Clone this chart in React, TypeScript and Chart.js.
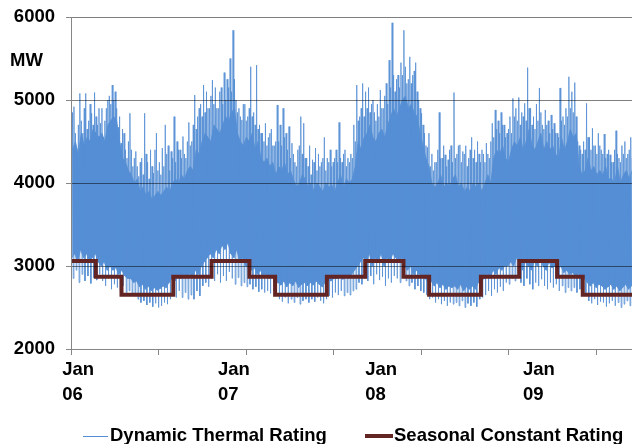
import React, { useEffect, useRef } from "react";
import { Chart, registerables } from "chart.js";

Chart.register(...registerables);

// ---- data ----
const startDate = "2006-01-01";
const endDate = "2009-08-26";

// Dynamic Thermal Rating (MW), one group of readings per week from Jan 2006:
// weekly peak, a second weekly peak, weekly trough, and the top / bottom of the dense band
const dtrWeeklyHigh = [
  4500, 4920, 4350, 5080, 4600, 5080, 4750, 4840, 5090, 4700,
  4720, 4550, 4900, 5050, 5180, 5100, 4670, 4480, 4600, 4300,
  4840, 4200, 4380, 4080, 4300, 4840, 4250, 4400, 4120, 4600,
  4250, 4420, 4700, 4450, 4380, 4800, 4500, 4400, 4560, 4300,
  4730, 4500, 5060, 4800, 4950, 5180, 5100, 4900, 5240, 5150,
  4900, 5150, 5330, 5250, 5500, 5840, 5000, 4900, 4760, 4950,
  4800, 5400, 4850, 5420, 4700, 4600, 4720, 4550, 4650, 4450,
  4940, 4700, 4900, 4600, 4680, 4480, 4250, 4400, 4800, 4720,
  4300, 4450, 4280, 4420, 4350, 4250, 4550, 4300, 4400, 4250,
  4400, 4730, 4250, 4400, 4300, 4350, 4700, 5180, 4800, 5200,
  5100, 5150, 4950, 4850, 4950, 5120, 4900, 5200, 5480, 5930,
  5100, 5300, 5450, 5840, 5200, 5520, 5300, 5450, 5000, 4840,
  4600, 4430, 4200, 4150, 4250, 4850, 4300, 4340, 4280, 4450,
  5090, 4350, 4460, 4380, 4450, 4300, 4550, 4400, 4500, 4250,
  4350, 4480, 4300, 4720, 4880, 4750, 4850, 4700, 4600, 4800,
  5020, 4900, 5030, 4850, 4960, 5390, 4900, 4800, 4950, 5145,
  4700, 4880, 4750, 4820, 4720, 4600, 5145, 4800, 4900, 5280,
  5100, 5210, 4500, 4400, 4500, 4960, 4550, 4660, 4450, 4600,
  4400, 4590, 4350, 4340, 4250, 4630, 4300, 4450, 4500, 4350, 4550,
];
const dtrWeeklySecondPeak = [
  4850, 4600, 4700, 4750, 4900, 4650, 4950, 4700, 4800, 4900,
  4900, 4750, 5000, 4950, 5000, 4900, 4800, 4650, 4400, 4500,
  4400, 4300, 4200, 4250, 4100, 4350, 4050, 4200, 4400, 4150,
  4100, 4200, 4350, 4150, 4300, 4250, 4400, 4300, 4350, 4500,
  4450, 4700, 4650, 4900, 4800, 4850, 4900, 5050, 4950, 4900,
  5100, 4950, 5000, 5150, 5100, 5250, 4850, 4800, 4950, 4750,
  4900, 4800, 4700, 4650, 4600, 4500, 4450, 4600, 4450, 4500,
  4500, 4450, 4550, 4400, 4300, 4350, 4200, 4450, 4350, 4300,
  4200, 4100, 4250, 4150, 4200, 4300, 4150, 4250, 4200, 4300,
  4250, 4300, 4350, 4200, 4250, 4300, 4500, 4750, 4900, 4800,
  4900, 4850, 5000, 4750, 4800, 4900, 5050, 4950, 5150, 5300,
  5250, 5150, 5300, 5400, 5250, 5200, 5350, 5100, 4900, 4700,
  4450, 4600, 4350, 4250, 4400, 4300, 4450, 4200, 4400, 4250,
  4300, 4450, 4250, 4350, 4200, 4400, 4300, 4250, 4350, 4400,
  4250, 4350, 4500, 4550, 4650, 4600, 4700, 4550, 4650, 4600,
  4800, 4750, 4700, 4800, 4750, 4900, 4700, 4650, 4750, 4850,
  4650, 4700, 4600, 4650, 4600, 4550, 4750, 4700, 4800, 4900,
  4850, 4800, 4450, 4350, 4400, 4550, 4400, 4450, 4350, 4450,
  4350, 4300, 4400, 4250, 4400, 4350, 4250, 4350, 4300, 4400, 4300,
];
const dtrWeeklyLow = [
  2850, 2950, 2800, 2900, 2820, 2880, 2790, 2860, 2830, 2900,
  2820, 2760, 2850, 2720, 2780, 2740, 2700, 2760, 2680, 2700,
  2660, 2640, 2600, 2560, 2580, 2530, 2560, 2510, 2550, 2500,
  2520, 2560, 2540, 2600, 2650, 2620, 2700, 2620, 2680, 2600,
  2650, 2600, 2700, 2640, 2760, 2800, 2750, 2850, 2820, 2900,
  2800, 2880, 2820, 2930, 2850, 2780, 2860, 2760, 2800, 2750,
  2780, 2720, 2750, 2690, 2720, 2680, 2700, 2670, 2710, 2650,
  2600, 2570, 2620, 2550, 2600, 2560, 2620, 2540, 2580, 2600,
  2560, 2600, 2570, 2620, 2580, 2550, 2600, 2640, 2620, 2680,
  2650, 2700, 2640, 2680, 2650, 2700, 2720, 2800, 2780, 2850,
  2820, 2880, 2780, 2900, 2830, 2870, 2760, 2850, 2800, 2880,
  2850, 2800, 2870, 2820, 2760, 2800, 2720, 2760, 2700, 2680,
  2650, 2600, 2620, 2560, 2600, 2540, 2580, 2520, 2560, 2540,
  2560, 2520, 2580, 2500, 2550, 2520, 2560, 2510, 2600, 2620,
  2650, 2700, 2640, 2720, 2680, 2750, 2700, 2800, 2780, 2850,
  2820, 2880, 2800, 2760, 2850, 2780, 2720, 2800, 2760, 2840,
  2760, 2720, 2800, 2740, 2780, 2700, 2760, 2680, 2740, 2700,
  2740, 2680, 2720, 2700, 2650, 2580, 2550, 2600, 2530, 2570,
  2560, 2510, 2550, 2580, 2520, 2560, 2500, 2540, 2580, 2520, 2560,
];
const dtrWeeklyBandTop = [
  4400, 4500, 4350, 4600, 4450, 4550, 4500, 4650, 4600, 4550,
  4600, 4500, 4700, 4750, 4800, 4750, 4500, 4300, 4250, 4150,
  4100, 4000, 4050, 3900, 3950, 3850, 3900, 3800, 3850, 3900,
  3850, 3900, 3950, 3900, 4000, 4050, 4000, 4100, 4050, 4150,
  4200, 4150, 4400, 4350, 4500, 4600, 4550, 4500, 4700, 4650,
  4600, 4700, 4800, 4750, 4850, 4900, 4600, 4500, 4450, 4550,
  4500, 4600, 4400, 4500, 4300, 4250, 4300, 4200, 4250, 4100,
  4200, 4150, 4250, 4100, 4150, 4050, 3950, 4000, 4100, 4050,
  3950, 4000, 3900, 4000, 3950, 3900, 4000, 3950, 3980, 3900,
  4000, 4100, 3950, 4050, 4000, 4050, 4200, 4500, 4400, 4550,
  4600, 4700, 4550, 4500, 4600, 4650, 4550, 4700, 4800, 4900,
  4800, 4900, 5000, 5050, 4900, 4950, 4850, 4800, 4600, 4450,
  4300, 4200, 4000, 3950, 4000, 4100, 3950, 4000, 3950, 4050,
  4100, 3950, 4000, 3900, 3950, 3900, 4000, 3950, 4000, 3900,
  4000, 4100, 4000, 4300, 4400, 4350, 4450, 4300, 4250, 4400,
  4500, 4450, 4550, 4400, 4500, 4650, 4450, 4400, 4500, 4600,
  4400, 4500, 4400, 4450, 4350, 4300, 4550, 4400, 4500, 4650,
  4550, 4600, 4200, 4100, 4150, 4300, 4150, 4200, 4100, 4150,
  4100, 4200, 4050, 4050, 4000, 4200, 4000, 4100, 4150, 4050, 4150,
];
const dtrWeeklyBandBottom = [
  3100, 3150, 3050, 3200, 3100, 3150, 3050, 3100, 3150, 3050,
  3000, 3050, 2950, 3000, 2950, 2980, 2900, 2950, 2880, 2850,
  2850, 2800, 2820, 2750, 2780, 2720, 2760, 2700, 2740, 2710,
  2730, 2760, 2740, 2800, 2850, 2820, 2900, 2850, 2900, 2880,
  2900, 2870, 2950, 2900, 3000, 3050, 3100, 3150, 3100, 3200,
  3150, 3250, 3200, 3280, 3150, 3100, 3200, 3050, 3100, 3000,
  3000, 2950, 2980, 2900, 2950, 2880, 2900, 2850, 2900, 2800,
  2800, 2770, 2820, 2750, 2800, 2760, 2820, 2740, 2780, 2800,
  2760, 2800, 2770, 2820, 2780, 2750, 2800, 2830, 2820, 2850,
  2850, 2880, 2840, 2870, 2850, 2900, 2950, 3000, 3050, 3100,
  3050, 3150, 3000, 3100, 3050, 3150, 3000, 3100, 3050, 3150,
  3100, 3050, 3100, 3000, 2950, 3000, 2900, 2950, 2900, 2880,
  2850, 2800, 2820, 2760, 2800, 2740, 2780, 2720, 2760, 2740,
  2760, 2720, 2780, 2700, 2750, 2720, 2760, 2720, 2800, 2820,
  2850, 2900, 2850, 2950, 2900, 2980, 2950, 3000, 3000, 3050,
  3000, 3100, 3050, 2950, 3050, 3000, 2950, 3050, 3000, 3100,
  3000, 2950, 3050, 2980, 3000, 2950, 3000, 2920, 2950, 2900,
  2920, 2880, 2900, 2880, 2850, 2800, 2760, 2800, 2740, 2780,
  2760, 2720, 2750, 2780, 2720, 2760, 2700, 2740, 2780, 2720, 2760,
];

// Seasonal Constant Rating: season start dates and rating (MW)
const seasonStarts = [
  "2006-01-01", "2006-03-01", "2006-05-01", "2006-09-01", "2006-12-01",
  "2007-03-01", "2007-05-01", "2007-09-01", "2007-12-01",
  "2008-03-01", "2008-05-01", "2008-09-01", "2008-12-01",
  "2009-03-01", "2009-05-01", "2009-08-26",
];
const seasonRatings = [
  3060, 2870, 2655, 2870, 3060,
  2870, 2655, 2870, 3060,
  2870, 2655, 2870, 3060,
  2870, 2655, 2655,
];

// axis
const yTicks = [2000, 3000, 4000, 5000, 6000];
const xTickMarkDays = [0, 208, 416, 624, 832, 1040, 1248];
const xLabelDays = [-21, 349, 699, 1074];
const xLabelMonths = ["Jan", "Jan", "Jan", "Jan"];
const xLabelYears = ["06", "07", "08", "09"];

const FONT = "'Liberation Sans', Arial, Helvetica, sans-serif";
const BLUE = "rgba(85,142,213,0.8)";
const BLUE_SOLID = "rgb(85,142,213)";
const RED = "#632523";

const dayOf = (d: string) =>
  (Date.parse(d + "T00:00:00Z") - Date.parse(startDate + "T00:00:00Z")) / 86400000;

export default function App() {
  const ref = useRef<HTMLCanvasElement | null>(null);

  useEffect(() => {
    if (!ref.current) return;
    const dtrPoints: { x: number; y: number }[] = [];
    const bandTopPoints: { x: number; y: number }[] = [];
    const bandBottomPoints: { x: number; y: number }[] = [];
    for (let i = 0; i < dtrWeeklyHigh.length; i++) {
      dtrPoints.push({ x: i * 7, y: dtrWeeklyHigh[i] });
      dtrPoints.push({ x: i * 7 + 1.75, y: dtrWeeklyBandBottom[i] });
      dtrPoints.push({ x: i * 7 + 3.5, y: dtrWeeklySecondPeak[i] });
      dtrPoints.push({ x: i * 7 + 5.25, y: dtrWeeklyLow[i] });
      bandTopPoints.push({ x: i * 7 + 3.5, y: dtrWeeklyBandTop[i] });
      bandBottomPoints.push({ x: i * 7 + 1.75, y: dtrWeeklyBandBottom[i] });
    }
    const seasonPoints = seasonStarts.map((d, i) => ({ x: dayOf(d), y: seasonRatings[i] }));
    const xMax = dayOf(endDate);

    const labelMap = new Map<number, string[]>();
    xLabelDays.forEach((d, i) => labelMap.set(d, [xLabelMonths[i], xLabelYears[i]]));
    const markSet = new Set(xTickMarkDays);

    const chart = new Chart(ref.current, {
      type: "line",
      data: {
        datasets: [
          {
            label: "Seasonal Constant Rating",
            data: seasonPoints,
            borderColor: RED,
            backgroundColor: RED,
            borderWidth: 4,
            pointRadius: 0,
            stepped: "before",
            borderCapStyle: "butt",
            borderJoinStyle: "miter",
            order: 0,
          },
          {
            label: "Dynamic Thermal Rating",
            data: dtrPoints,
            borderColor: BLUE,
            backgroundColor: BLUE,
            borderWidth: 1,
            pointRadius: 0,
            tension: 0,
            order: 1,
          },
          {
            label: "DTR band top",
            data: bandTopPoints,
            borderColor: BLUE,
            backgroundColor: BLUE_SOLID,
            borderWidth: 1,
            pointRadius: 0,
            fill: "+1",
            order: 2,
          },
          {
            label: "DTR band bottom",
            data: bandBottomPoints,
            borderColor: BLUE,
            backgroundColor: BLUE_SOLID,
            borderWidth: 1,
            pointRadius: 0,
            fill: false,
            order: 3,
          },
        ],
      },
      options: {
        animation: false,
        responsive: false,
        devicePixelRatio: 1,
        layout: { padding: { top: 17, right: 0, bottom: 0, left: 0 } },
        plugins: { legend: { display: false }, tooltip: { enabled: false } },
        scales: {
          x: {
            type: "linear",
            min: 0,
            max: xMax,
            afterBuildTicks: (scale: any) => {
              scale.ticks = [
                ...xTickMarkDays.map((v) => ({ value: v })),
                ...xLabelDays.map((v) => ({ value: v })),
              ];
            },
            afterFit: (scale: any) => {
              scale.height = 95;
            },
            grid: {
              drawOnChartArea: false,
              drawTicks: true,
              tickLength: 6,
              tickWidth: 1,
              tickColor: (ctx: any) =>
                ctx.tick && markSet.has(ctx.tick.value) ? "#868686" : "rgba(0,0,0,0)",
            },
            border: { display: true, color: "#868686", width: 1, z: 2 },
            ticks: {
              autoSkip: false,
              maxRotation: 0,
              minRotation: 0,
              align: "start",
              padding: 2,
              color: "#000",
              font: { family: FONT, size: 18.5, weight: "bold", lineHeight: 1.38 },
              callback: (value: any) => labelMap.get(value) || "",
            },
          },
          y: {
            min: 2000,
            max: 6000,
            afterBuildTicks: (scale: any) => {
              scale.ticks = yTicks.map((v) => ({ value: v }));
            },
            afterFit: (scale: any) => {
              scale.width = 71;
              scale.paddingTop = 0;
              scale.paddingBottom = 0;
            },
            grid: {
              z: 1,
              color: "rgba(0,0,0,0.5)",
              lineWidth: 1,
              drawTicks: true,
              tickLength: 5,
              tickColor: "#868686",
            },
            border: { display: true, color: "#868686", width: 1, z: 2 },
            ticks: {
              padding: 11,
              color: "#000",
              font: { family: FONT, size: 18.5, weight: "bold" },
              callback: (v: any) => String(v),
            },
          },
        },
      },
    } as any);
    return () => chart.destroy();
  }, []);

  const textStyle: React.CSSProperties = {
    position: "absolute",
    fontFamily: FONT,
    fontWeight: "bold",
    fontSize: "18.5px",
    lineHeight: "20px",
    color: "#000",
    whiteSpace: "nowrap",
  };

  return (
    <div style={{ position: "fixed", left: 0, top: 0, width: 632, height: 444, background: "#fff" }}>
      <canvas ref={ref} width={632} height={444} style={{ position: "absolute", left: 0, top: 0 }} />
      <div style={{ ...textStyle, left: 10, top: 50 }}>MW</div>
      <div style={{ position: "absolute", left: 83, top: 436, width: 25, height: 1, background: BLUE_SOLID }} />
      <div style={{ ...textStyle, left: 110, top: 425 }}>Dynamic Thermal Rating</div>
      <div style={{ position: "absolute", left: 365, top: 434, width: 28, height: 4, background: RED }} />
      <div style={{ ...textStyle, left: 394, top: 425 }}>Seasonal Constant Rating</div>
    </div>
  );
}
